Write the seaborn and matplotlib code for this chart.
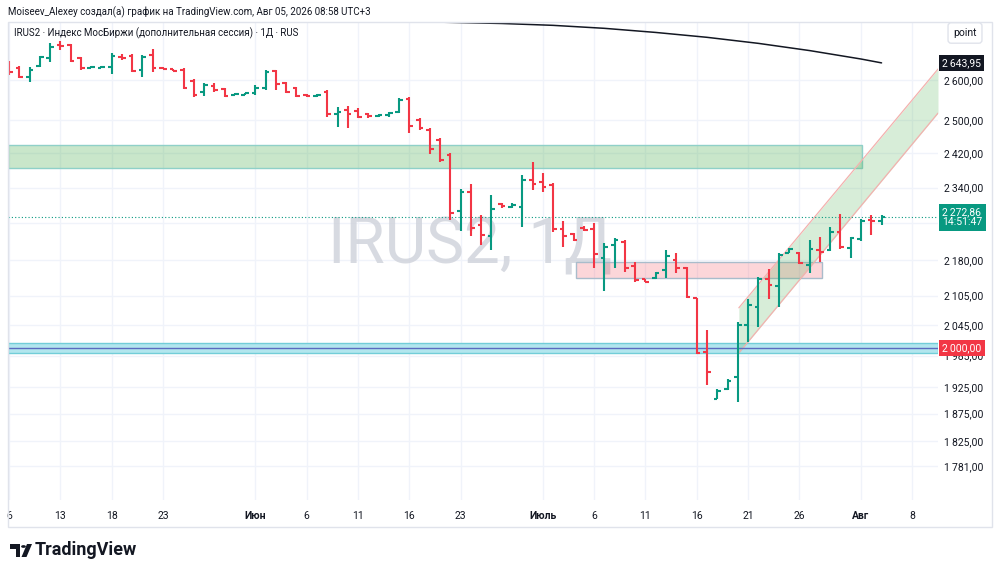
import numpy as np
import pandas as pd
import seaborn as sns
import matplotlib.pyplot as plt
from matplotlib.patches import Rectangle, Polygon, Circle

# daily OHLC bars of IRUS2
opens = [2641, 2631, 2608, 2636, 2656, 2691, 2691, 2656, 2632, 2632,
         2633, 2660, 2661, 2626, 2664, 2632, 2627, 2626, 2597, 2570,
         2585, 2577, 2563, 2563, 2567, 2580, 2623, 2592, 2580, 2563,
         2560, 2570, 2515, 2525, 2522, 2515, 2510, 2512, 2520, 2552,
         2500, 2476, 2452, 2416, 2287, 2330, 2256, 2232, 2303, 2296,
         2296, 2357, 2353, 2346, 2247, 2236, 2250, 2247, 2184, 2212,
         2218, 2167, 2140, 2142, 2159, 2180, 2163, 2100, 1992, 1903,
         1921, 1944, 2045, 2082, 2140, 2125, 2195, 2195, 2169, 2201,
         2201, 2241, 2205, 2225, 2267, 2265]
highs = [2648, 2636, 2633, 2661, 2696, 2701, 2693, 2659, 2635, 2635,
         2669, 2666, 2666, 2664, 2680, 2634, 2628, 2631, 2603, 2592,
         2592, 2580, 2567, 2568, 2587, 2626, 2626, 2595, 2582, 2564,
         2565, 2575, 2532, 2535, 2530, 2517, 2514, 2520, 2555, 2557,
         2505, 2481, 2457, 2421, 2337, 2348, 2278, 2323, 2305, 2305,
         2369, 2399, 2373, 2350, 2265, 2238, 2254, 2260, 2216, 2227,
         2223, 2176, 2140, 2154, 2201, 2195, 2165, 2100, 2035, 1921,
         1940, 2051, 2098, 2144, 2161, 2195, 2205, 2197, 2223, 2230,
         2252, 2280, 2230, 2269, 2278, 2278]
lows = [2613, 2605, 2595, 2633, 2646, 2677, 2646, 2626, 2630, 2630,
        2615, 2652, 2621, 2608, 2621, 2627, 2622, 2577, 2557, 2560,
        2570, 2557, 2561, 2561, 2562, 2575, 2575, 2567, 2557, 2558,
        2558, 2507, 2483, 2481, 2505, 2505, 2508, 2507, 2517, 2469,
        2476, 2418, 2399, 2267, 2243, 2232, 2212, 2201, 2294, 2294,
        2252, 2335, 2330, 2240, 2208, 2221, 2243, 2163, 2115, 2163,
        2154, 2133, 2133, 2140, 2142, 2152, 2100, 1988, 1929, 1902,
        1919, 1897, 2012, 2041, 2098, 2082, 2195, 2171, 2152, 2176,
        2199, 2203, 2184, 2221, 2234, 2256]
closes = [2621, 2608, 2626, 2659, 2686, 2688, 2648, 2631, 2633, 2634,
          2661, 2656, 2623, 2659, 2631, 2629, 2624, 2580, 2562, 2587,
          2575, 2560, 2565, 2566, 2580, 2621, 2590, 2570, 2560, 2560,
          2563, 2515, 2520, 2515, 2507, 2510, 2512, 2517, 2550, 2485,
          2481, 2430, 2404, 2282, 2330, 2250, 2234, 2291, 2298, 2300,
          2357, 2348, 2341, 2247, 2232, 2223, 2245, 2193, 2208, 2223,
          2163, 2138, 2134, 2152, 2189, 2163, 2102, 1990, 1953, 1917,
          1936, 2045, 2086, 2140, 2127, 2191, 2203, 2174, 2203, 2197,
          2241, 2208, 2227, 2265, 2264, 2272.86]

# moving average (black line)
ma_idx = [38, 43, 48, 53, 58, 63, 68, 73, 78, 83, 85]
ma_val = [2754, 2751, 2748, 2743, 2735, 2724, 2711, 2695, 2676, 2654, 2643.95]

# drawings
green_zone = (2385, 2440)
red_zone = (2142, 2176)
level_band = (1990, 2000, 2010)
chan_x = [71.1, 90.5]
chan_low = [1990, 2517]
chan_high = [2080, 2628]
last_price = 2272.86

x_ticks = [0, 5, 10, 15, 24, 29, 34, 39, 44, 52, 57, 62, 67, 72, 77, 83, 88]
x_labels = ["6", "13", "18", "23", "Июн", "6", "11", "16", "23", "Июль",
            "6", "11", "16", "21", "26", "Авг", "8"]
y_ticks = [1781, 1825, 1875, 1925, 1985, 2045, 2105, 2180, 2260, 2340, 2420, 2500, 2600]
hidden_ticks = [2260]  # covered by the last-price tag

GREEN = "#089981"
RED = "#f23645"
DARK = "#131722"

sns.set_theme(style="white")
plt.rcParams["font.family"] = ["Roboto", "DejaVu Sans"]


def fmt(v):
    return f"{v:,.2f}".replace(",", "\u2009").replace(".", ",")


df = pd.DataFrame({"open": opens, "high": highs, "low": lows, "close": closes})
df["i"] = np.arange(len(df))
df["color"] = np.where(df["close"] >= df["open"], GREEN, RED)

fig = plt.figure(figsize=(10, 5.75), dpi=100)
ax = fig.add_axes([0.008, 1 - 500 / 575, 0.930, 478 / 575])
ax.set_yscale("log")

# OHLC bars
ax.vlines(df["i"], df["low"], df["high"], colors=df["color"], lw=1.5, zorder=4)
ax.hlines(df["open"], df["i"] - 0.36, df["i"], colors=df["color"], lw=1.5, zorder=4)
ax.hlines(df["close"], df["i"], df["i"] + 0.36, colors=df["color"], lw=1.5, zorder=4)

sns.lineplot(x=ma_idx, y=ma_val, color=DARK, lw=1.1, ax=ax, zorder=5)

# zones
ax.add_patch(Rectangle((-0.1, green_zone[0]), 83.2, green_zone[1] - green_zone[0],
                       fc=(0.298, 0.686, 0.314, 0.3), ec="#8fd0c8", lw=1, zorder=2))
ax.add_patch(Rectangle((55.2, red_zone[0]), 24.0, red_zone[1] - red_zone[0],
                       fc=(0.949, 0.212, 0.271, 0.2), ec="#a9bccb", lw=1, zorder=2))
ax.axhspan(level_band[0], level_band[2], fc="#b2e6ee", ec="#72cdd8", lw=1, zorder=2)
ax.axhline(level_band[1], color="#5b6bbf", lw=1, zorder=2.5)

ax.fill_between(chan_x, chan_low, chan_high, color=(0.298, 0.686, 0.314, 0.22), lw=0, zorder=2)
ax.plot(chan_x, chan_low, color="#f3b1ae", lw=0.9, zorder=2.2)
ax.plot(chan_x, chan_high, color="#f3b1ae", lw=0.9, zorder=2.2)

ax.axhline(last_price, color=GREEN, lw=0.8, ls=(0, (1, 2)), zorder=3)

# watermark
ax.text(0.497, 0.533, "IRUS2, 1Д", transform=ax.transAxes, fontsize=46,
        color="#d1d4dc", alpha=0.85, ha="center", va="center", zorder=1)

ax.set_xlim(-0.1, 90.5)
ax.set_ylim(1723, 2752)
ax.set_xlabel("")
ax.set_ylabel("")

ax.set_xticks(x_ticks)
ax.set_xticklabels(x_labels)
for lab in ax.get_xticklabels():
    if lab.get_text() in ("Июн", "Июль", "Авг"):
        lab.set_fontweight("bold")
ax.set_yticks(y_ticks)
ax.set_yticklabels(["" if v in hidden_ticks else fmt(v) for v in y_ticks])
ax.yaxis.set_minor_locator(plt.NullLocator())
ax.yaxis.tick_right()
ax.tick_params(axis="y", length=0, pad=4.5, labelsize=7.5, colors=DARK)
ax.tick_params(axis="x", length=0, pad=8, labelsize=7.5, colors=DARK)
ax.grid(True, color="#f0f3fa", lw=1)
for s in ax.spines.values():
    s.set_visible(False)

# price labels on the scale
def price_tag(text, value, color):
    ax.annotate(text, xy=(1, value), xycoords=("axes fraction", "data"),
                xytext=(3, 0), textcoords="offset points", ha="left", va="center",
                color="white", fontsize=7.5, linespacing=1.05,
                bbox=dict(boxstyle="square,pad=0.3", fc=color, ec="none"),
                annotation_clip=False, zorder=10)

price_tag(fmt(ma_val[-1]), ma_val[-1], DARK)
price_tag(fmt(last_price) + "\n14:51:47", last_price, GREEN)
price_tag(fmt(level_band[1]), level_band[1], RED)

# header and frame
fig.text(8 / 1000, 1 - 12 / 575,
         "Moiseev_Alexey создал(а) график на TradingView.com, Авг 05, 2026 08:58 UTC+3",
         va="center", fontsize=7, color=DARK)
fig.text(14 / 1000, 1 - 33 / 575,
         "IRUS2 · Индекс МосБиржи (дополнительная сессия) · 1Д · RUS",
         va="center", fontsize=7, color=DARK)
fig.text(965 / 1000, 1 - 33 / 575, "point", ha="center", va="center", fontsize=7.5,
         color=DARK, bbox=dict(boxstyle="round,pad=0.5,rounding_size=0.3", fc="white", ec="#e0e3eb"))
fig.add_artist(Rectangle((8 / 1000, 1 - 527 / 575), 984 / 1000, 505 / 575,
                         transform=fig.transFigure, fill=False, ec="#e0e3eb", lw=1))

# TradingView logo
def px(x, y):
    return (x / 1000, 1 - y / 575)

fig.add_artist(Polygon([px(10, 544), px(20, 544), px(20, 557), px(15.5, 557),
                        px(15.5, 549), px(10, 549)], closed=True,
                       transform=fig.transFigure, fc=DARK, ec="none"))
fig.add_artist(Circle(px(23.5, 546.5), 2.4 / 1000, transform=fig.transFigure, fc=DARK, ec="none"))
fig.add_artist(Polygon([px(27, 544), px(32, 544), px(26.5, 557), px(21.5, 557)], closed=True,
                       transform=fig.transFigure, fc=DARK, ec="none"))
fig.text(35 / 1000, 1 - 550 / 575, "TradingView", va="center", fontsize=13,
         fontweight="bold", color=DARK)

fig.savefig("out.png", dpi=100, facecolor="white")
